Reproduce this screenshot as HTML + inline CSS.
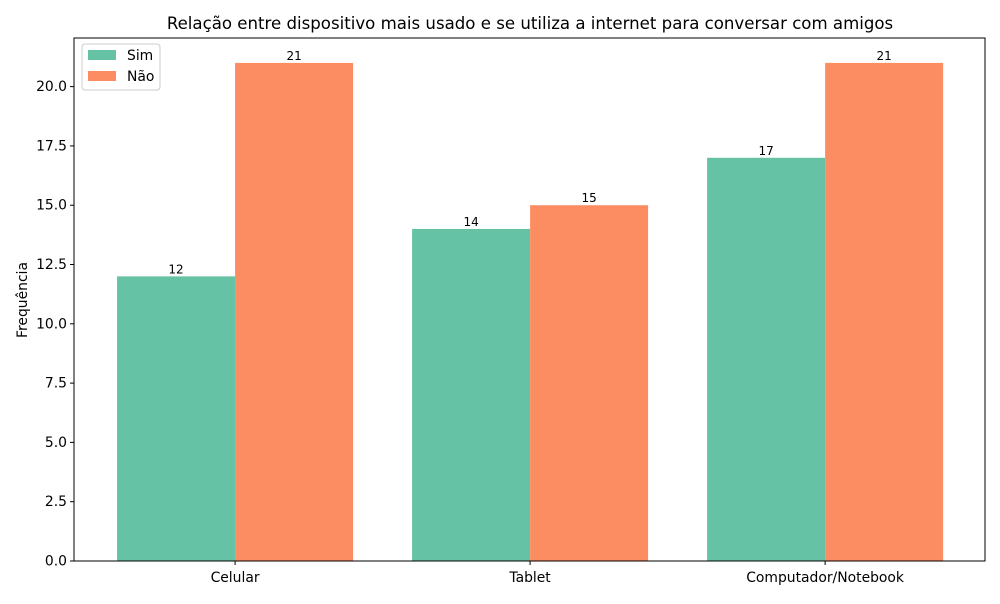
<!DOCTYPE html>
<html><head><meta charset="utf-8"><style>
body{margin:0;background:#fff;font-family:"DejaVu Sans","Liberation Sans",sans-serif}
svg text{font-family:"DejaVu Sans","Liberation Sans",sans-serif}
</style></head><body>
<svg id="chart" width="1000" height="600" xmlns="http://www.w3.org/2000/svg"></svg>
<script>
const categories=["Celular","Tablet","Computador/Notebook"];
const simValues=[12,14,17];
const naoValues=[21,15,21];
const yTicks=[0,2.5,5,7.5,10,12.5,15,17.5,20];
const seriesNames=["Sim","Não"];
const colors=["#66c2a5","#fc8d62"];
const L=74,R=985,T=38,B=561;
const yMax=22.05, xMin=-0.546, xMax=2.542;
const ys=v=>B-(v/yMax)*(B-T);
const xs=v=>L+(v-xMin)/(xMax-xMin)*(R-L);
const svg=document.getElementById('chart');
const NS="http://www.w3.org/2000/svg";
function mk(tag,attrs,text){const e=document.createElementNS(NS,tag);for(const k in attrs)e.setAttribute(k,attrs[k]);if(text!==undefined)e.textContent=text;svg.appendChild(e);return e;}
const bw=0.4;
[simValues,naoValues].forEach((vals,s)=>{
 vals.forEach((v,i)=>{
  const x0=xs(i+(s===0?-bw:0)), x1=xs(i+(s===0?0:bw));
  const r=mk('rect',{x:x0,y:ys(v),width:x1-x0,height:B-ys(v),fill:colors[s]});
  
  
  const t=mk('text',{x:(x0+x1)/2,y:ys(v)-3,'font-size':12,'text-anchor':'middle',fill:'#000'},String(v));
  
  
 });
});
const frame=mk('rect',{x:L,y:T,width:R-L,height:B-T,fill:'none',stroke:'#000','stroke-width':1});


yTicks.forEach(v=>{
 const y=ys(v);
 mk('line',{x1:L-4,x2:L,y1:y,y2:y,stroke:'#000'});
 const t=mk('text',{x:L-7,y:y+4.5,'font-size':13.9,'text-anchor':'end'},v.toFixed(1));
 
 
});
categories.forEach((c,i)=>{
 const x=xs(i);
 mk('line',{x1:x,x2:x,y1:B,y2:B+4,stroke:'#000'});
 const t=mk('text',{x:x,y:B+21,'font-size':13.9,'text-anchor':'middle'},c);
 
 
});
const yt=mk('text',{x:27,y:300,'font-size':13.9,'text-anchor':'middle',transform:'rotate(-90 27 300)'},'Frequência');


const ti=mk('text',{x:530,y:29,'font-size':16.6,'text-anchor':'middle'},'Relação entre dispositivo mais usado e se utiliza a internet para conversar com amigos');


const lg=mk('rect',{x:82,y:44,width:78,height:46,fill:'#fff',stroke:'#ccc',rx:3});


seriesNames.forEach((n,s)=>{
 const y=50+s*21;
 mk('rect',{x:88,y:y,width:28,height:10,fill:colors[s]});
 const t=mk('text',{x:127,y:y+10,'font-size':13.9},n);
 
 
});
</script>
</body></html>
